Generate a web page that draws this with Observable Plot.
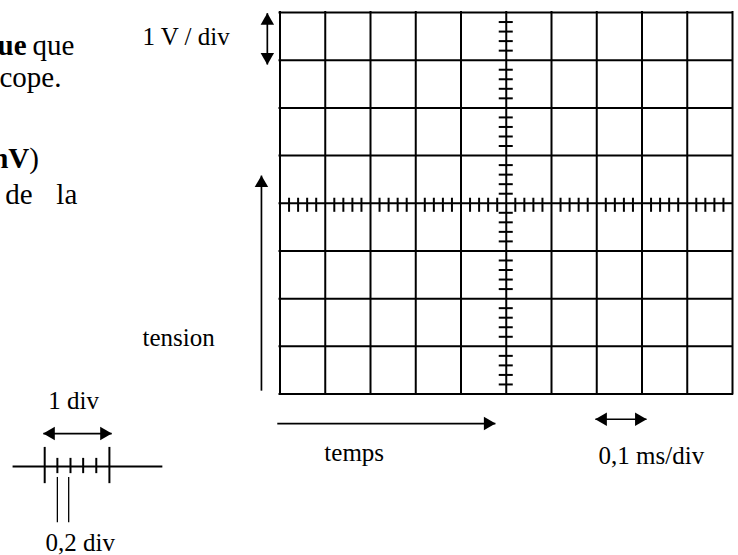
<!DOCTYPE html>
<html>
<head>
<meta charset="utf-8">
<script src="https://cdn.jsdelivr.net/npm/d3@7"></script>
<script src="https://cdn.jsdelivr.net/npm/@observablehq/plot@0.6"></script>
<style>
  html, body { margin: 0; padding: 0; background: #fff; overflow: hidden; }
</style>
</head>
<body>
<div id="chart"></div>
<script>
// Oscilloscope screen: 10 horizontal divisions x 8 vertical divisions
const xDivisions = [0, 1, 2, 3, 4, 5, 6, 7, 8, 9, 10];
const yDivisions = [-4, -3, -2, -1, 0, 1, 2, 3, 4];
// graduations of 0.2 div on the two central axes
const xSubTicks = d3.range(1, 50).filter(i => i % 5 !== 0).map(i => i / 5);
const ySubTicks = d3.range(-19, 20).filter(i => i % 5 !== 0).map(i => i / 5);

// texts (in screen-division units); size "big" = left body text
const labels = [
  {text: "ue", x: -5.60, y: 3.31, anchor: "end", bold: true, big: true},
  {text: "que", x: -5.47, y: 3.31, anchor: "start", bold: false, big: true},
  {text: "cope.", x: -4.83, y: 2.64, anchor: "end", bold: false, big: true},
  {text: "nV", x: -5.54, y: 0.94, anchor: "end", bold: true, big: true},
  {text: ")", x: -5.54, y: 0.94, anchor: "start", bold: false, big: true},
  {text: "de", x: -6.07, y: 0.18, anchor: "start", bold: false, big: true},
  {text: "la", x: -4.48, y: 0.18, anchor: "end", bold: false, big: true},
  {text: "1 V / div", x: -3.04, y: 3.48, anchor: "start", bold: false, big: false},
  {text: "tension", x: -3.04, y: -2.82, anchor: "start", bold: false, big: false},
  {text: "temps", x: 0.98, y: -5.23, anchor: "start", bold: false, big: false},
  {text: "0,1 ms/div", x: 7.04, y: -5.29, anchor: "start", bold: false, big: false},
  {text: "1 div", x: -5.12, y: -4.14, anchor: "start", bold: false, big: false},
  {text: "0,2 div", x: -5.18, y: -7.12, anchor: "start", bold: false, big: false}
];

// arrows (in screen-division units)
const arrows = [
  {name: "1 V / div", x1: -0.28, y1: 2.91, x2: -0.28, y2: 3.985, both: true},
  {name: "tension", x1: -0.41, y1: -3.93, x2: -0.41, y2: 0.58, both: false},
  {name: "temps", x1: -0.06, y1: -4.62, x2: 4.76, y2: -4.62, both: false},
  {name: "0,1 ms/div", x1: 6.97, y1: -4.53, x2: 8.10, y2: -4.53, both: true},
  {name: "1 div", x1: -5.23, y1: -4.83, x2: -3.72, y2: -4.83, both: true}
];

// small graduated scale legend (bottom left)
const legendAxis = [{x1: -5.91, y1: -5.52, x2: -2.60, y2: -5.52}];
const legendMajorTicks = [-5.20, -3.77];
const legendMinorTicks = [-4.92, -4.63, -4.35, -4.06];
const legendPointers = [-4.92, -4.67];

const opposite = {up: "down", down: "up", left: "right", right: "left"};
const heads = arrows.flatMap(a => {
  const dir = a.y1 === a.y2 ? (a.x2 > a.x1 ? "right" : "left") : (a.y2 > a.y1 ? "up" : "down");
  const h = [{x: a.x2, y: a.y2, dir}];
  if (a.both) h.push({x: a.x1, y: a.y1, dir: opposite[dir]});
  return h;
});
const headStyle = {
  up: {rotate: 0, dx: 0, dy: 7.6},
  down: {rotate: 180, dx: 0, dy: -7.6},
  right: {rotate: 90, dx: -7.6, dy: 0},
  left: {rotate: 270, dx: 7.6, dy: 0}
};

const font = "Liberation Serif, Times New Roman, serif";

const labelMarks = [];
for (const anchor of ["start", "end"]) {
  for (const bold of [false, true]) {
    for (const big of [false, true]) {
      const subset = labels.filter(d => d.anchor === anchor && d.bold === bold && d.big === big);
      if (!subset.length) continue;
      labelMarks.push(Plot.text(subset, {
        x: "x", y: "y", text: "text",
        textAnchor: anchor,
        fontWeight: bold ? "bold" : "normal",
        fontFamily: font,
        fontSize: big ? 29 : 25,
        fill: "black"
      }));
    }
  }
}

const headMarks = Object.entries(headStyle).map(([dir, s]) =>
  Plot.dot(heads.filter(h => h.dir === dir), {
    x: "x", y: "y", symbol: "triangle", r: 5,
    fill: "black", stroke: "none",
    rotate: s.rotate, dx: s.dx, dy: s.dy
  })
);

const chart = Plot.plot({
  width: 738,
  height: 555,
  marginLeft: 279.5,
  marginRight: 6,
  marginTop: 12,
  marginBottom: 161.5,
  x: {domain: [0, 10], axis: null},
  y: {domain: [-4, 4], axis: null},
  style: {background: "white", overflow: "visible", fontFamily: font},
  marks: [
    // screen grid
    Plot.ruleX(xDivisions, {x: d => d, stroke: "black", strokeWidth: 2, strokeLinecap: "square"}),
    Plot.ruleY(yDivisions, {y: d => d, stroke: "black", strokeWidth: 2, strokeLinecap: "square"}),
    // graduations on central axes
    Plot.ruleX(xSubTicks, {x: d => d, y1: 0.105, y2: -0.19, stroke: "black", strokeWidth: 2}),
    Plot.ruleY(ySubTicks, {y: d => d, x1: 4.845, x2: 5.155, stroke: "black", strokeWidth: 2}),
    // arrows
    Plot.link(arrows, {x1: "x1", y1: "y1", x2: "x2", y2: "y2", stroke: "black", strokeWidth: 1.7}),
    ...headMarks,
    // legend scale
    Plot.link(legendAxis, {x1: "x1", y1: "y1", x2: "x2", y2: "y2", stroke: "black", strokeWidth: 2}),
    Plot.ruleX(legendMajorTicks, {x: d => d, y1: -5.12, y2: -5.88, stroke: "black", strokeWidth: 2}),
    Plot.ruleX(legendMinorTicks, {x: d => d, y1: -5.35, y2: -5.67, stroke: "black", strokeWidth: 2}),
    Plot.ruleX(legendPointers, {x: d => d, y1: -5.75, y2: -6.70, stroke: "black", strokeWidth: 1.3}),
    // texts
    ...labelMarks
  ]
});
document.getElementById("chart").appendChild(chart);
</script>
</body>
</html>
